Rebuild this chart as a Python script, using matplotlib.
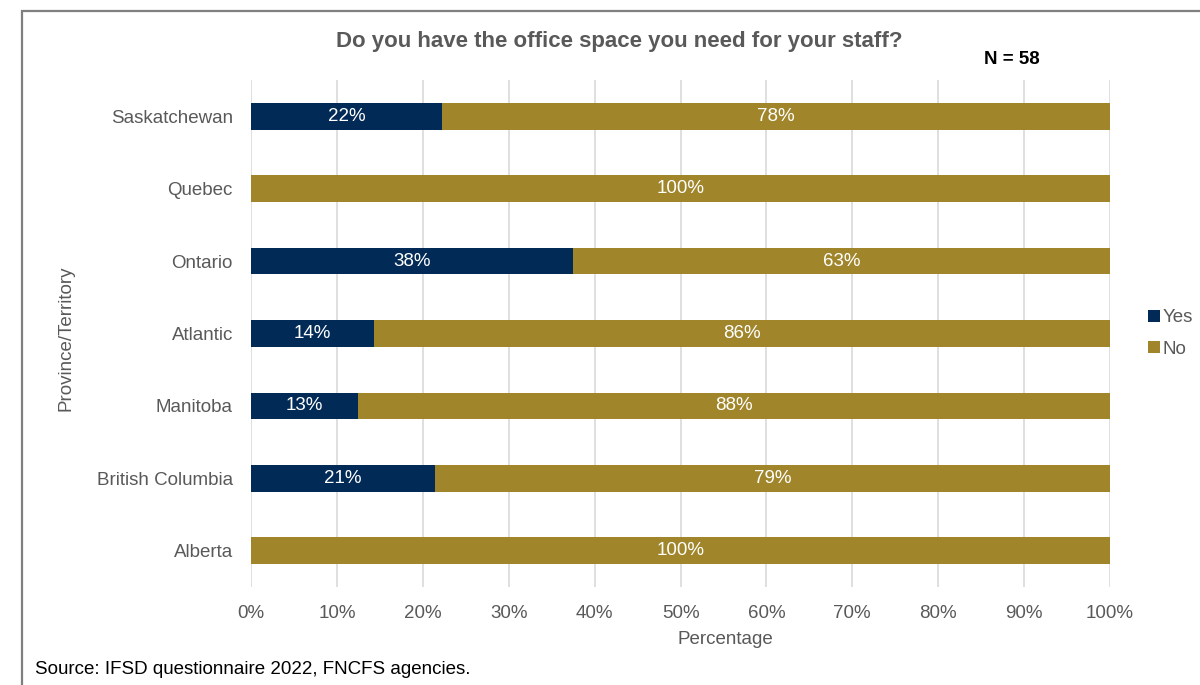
import matplotlib.pyplot as plt
from matplotlib.patches import Rectangle
from decimal import Decimal, ROUND_HALF_UP

plt.rcParams['font.family'] = ['Liberation Sans', 'DejaVu Sans']

# survey shares by region, top to bottom
regions = ['Saskatchewan', 'Quebec', 'Ontario', 'Atlantic', 'Manitoba',
           'British Columbia', 'Alberta']
yes_pct = [22.2, 0, 37.5, 14.3, 12.5, 21.4, 0]
no_pct = [77.8, 100, 62.5, 85.7, 87.5, 78.6, 100]
x_ticks = [0, 10, 20, 30, 40, 50, 60, 70, 80, 90, 100]

YES_C = '#022a56'
NO_C = '#a0852a'
GREY = '#595959'
FS = 13.5


def pct_label(v):
    # Excel style rounding (half up)
    return f"{Decimal(str(v)).quantize(Decimal('1'), rounding=ROUND_HALF_UP)}%"


fig = plt.figure(figsize=(12, 6.85), dpi=100)
ax = fig.add_axes([0.2092, 0.1431, 0.7158, 0.7401])

ypos = list(range(len(regions)))[::-1]
h = 0.37
b_yes = ax.barh(ypos, yes_pct, height=h, color=YES_C, label='Yes', zorder=3)
b_no = ax.barh(ypos, no_pct, left=yes_pct, height=h, color=NO_C, label='No', zorder=3)

for bars, vals in ((b_yes, yes_pct), (b_no, no_pct)):
    for bar, v in zip(bars, vals):
        if v <= 0:
            continue
        ax.text(bar.get_x() + bar.get_width() / 2, bar.get_y() + bar.get_height() / 2,
                pct_label(v), ha='center', va='center', color='white', fontsize=FS, zorder=4)

ax.set_xlim(0, 100)
ax.set_ylim(-0.5, 6.5)
ax.set_xticks(x_ticks)
ax.set_xticklabels([f'{t}%' for t in x_ticks], color=GREY, fontsize=FS)
ax.set_yticks(ypos)
ax.set_yticklabels(regions, color=GREY, fontsize=FS)
ax.tick_params(axis='both', length=0)
ax.tick_params(axis='x', pad=13)
ax.tick_params(axis='y', pad=13)
ax.grid(axis='x', color='#d9d9d9', lw=1.2, zorder=0)
for s in ax.spines.values():
    s.set_visible(False)

ax.set_ylabel('Province/Territory', color=GREY, fontsize=FS)
ax.yaxis.set_label_coords(-0.206, 0.49)
fig.text(725 / 1200, 1 - 640 / 685, 'Percentage', ha='center', va='center',
         color=GREY, fontsize=FS)

fig.text(619 / 1200, 1 - 42 / 685, 'Do you have the office space you need for your staff?',
         ha='center', va='center', color=GREY, fontsize=16, fontweight='bold')
fig.text(1012 / 1200, 1 - 60 / 685, 'N = 58', ha='center', va='center',
         color='black', fontsize=FS, fontweight='bold')

leg = ax.legend(loc='center left', bbox_to_anchor=(1.035, 0.5), frameon=False,
                handlelength=0.65, handleheight=0.65, handletextpad=0.15,
                labelspacing=0.75, fontsize=FS, borderaxespad=0)
for t in leg.get_texts():
    t.set_color(GREY)

fig.text(35 / 1200, 1 - 670 / 685, 'Source: IFSD questionnaire 2022, FNCFS agencies.',
         ha='left', va='center', color='black', fontsize=FS)

# frame around the figure, running off the right and bottom edges
fig.patches.append(Rectangle((21.5 / 1200, -0.05), 1.1, 1.05 - 10.5 / 685,
                             transform=fig.transFigure, fill=False,
                             edgecolor='#7f7f7f', lw=1.6))

fig.savefig('out.png', dpi=100)
